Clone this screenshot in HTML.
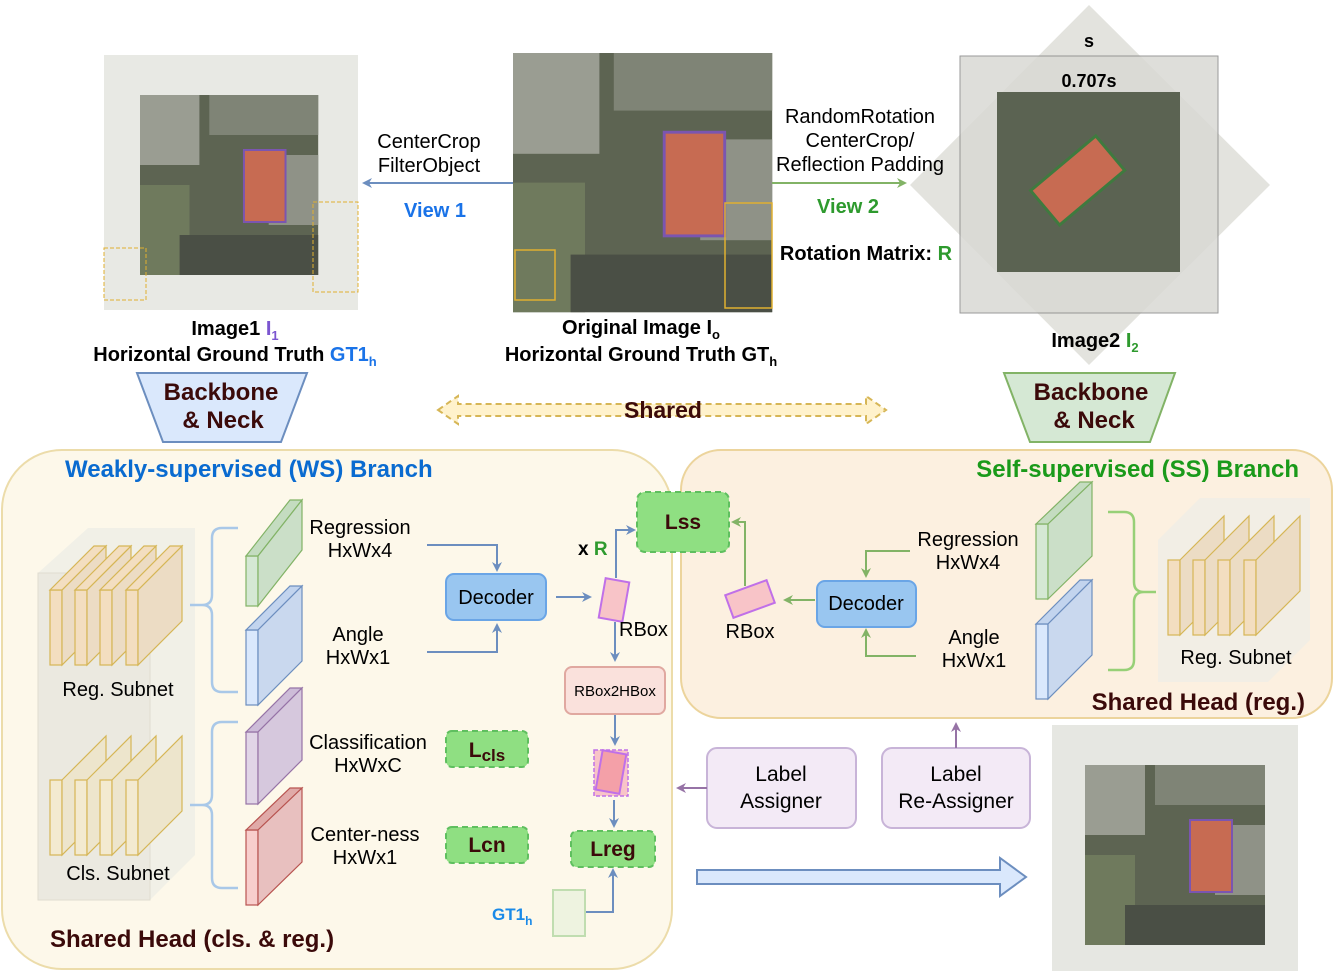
<!DOCTYPE html>
<html><head><meta charset="utf-8"><style>
body{margin:0;background:#fff}
svg{display:block;font-family:"Liberation Sans",Arial,sans-serif}
</style></head><body>
<svg width="1333" height="973" viewBox="0 0 1333 973" xmlns="http://www.w3.org/2000/svg">
<defs>
<marker id="ab" markerWidth="10" markerHeight="10" refX="8" refY="5" orient="auto" markerUnits="userSpaceOnUse"><path d="M0,0 L10,5 L0,10 L3,5z" fill="#6c8ebf"/></marker>
<marker id="ag" markerWidth="10" markerHeight="10" refX="8" refY="5" orient="auto" markerUnits="userSpaceOnUse"><path d="M0,0 L10,5 L0,10 L3,5z" fill="#82b366"/></marker>
<marker id="ap" markerWidth="10" markerHeight="10" refX="8" refY="5" orient="auto" markerUnits="userSpaceOnUse"><path d="M0,0 L10,5 L0,10 L3,5z" fill="#9673a6"/></marker>
<g id="photo">
<rect x="0" y="0" width="180" height="180" fill="#5d6452"/>
<rect x="0" y="0" width="60" height="70" fill="#9a9d92"/>
<rect x="70" y="0" width="110" height="40" fill="#7f8476"/>
<rect x="0" y="90" width="50" height="90" fill="#6f7a5d"/>
<rect x="40" y="140" width="140" height="40" fill="#4a4f45"/>
<rect x="130" y="60" width="50" height="70" fill="#8f9287"/>
<rect x="105" y="55" width="42" height="72" fill="#c76b52" stroke="#7b55b0" stroke-width="2"/>
</g>
</defs>

<!-- Image1 -->
<rect x="104" y="55" width="254" height="255" fill="#e8e9e4"/>
<use href="#photo" transform="translate(140,95) scale(0.99,1)"/>
<rect x="104" y="248" width="42" height="52" fill="none" stroke="#e0b030" stroke-dasharray="4,2"/>
<rect x="313" y="202" width="45" height="90" fill="none" stroke="#e0b030" stroke-dasharray="4,2"/>
<!-- Original -->
<g transform="translate(513,53) scale(1.44)"><use href="#photo"/></g>
<rect x="515" y="250" width="40" height="50" fill="none" stroke="#e0b030" stroke-width="1.5"/>
<rect x="725" y="203" width="47" height="105" fill="none" stroke="#e0b030" stroke-width="1.5"/>
<!-- Image2 -->
<polygon points="1089,5 1270,185 1089,365 910,185" fill="#dcdcd6" opacity="0.8"/>
<rect x="960" y="56" width="258" height="257" fill="#d9d9d4" stroke="#888" stroke-width="1" opacity="0.85"/>
<rect x="997" y="92" width="183" height="180" fill="#5b6352"/>
<rect x="1050" y="150" width="45" height="85" fill="#c76b52" stroke="#3f7a3f" stroke-width="3" transform="rotate(50 1088 192)"/>
<text x="1089" y="47" text-anchor="middle" font-size="18" font-weight="bold">s</text>
<text x="1089" y="87" text-anchor="middle" font-size="18" font-weight="bold">0.707s</text>

<!-- Top labels -->
<g font-size="20" text-anchor="middle">
<text x="429" y="148">CenterCrop</text>
<text x="429" y="172">FilterObject</text>
<text x="435" y="217" fill="#1a73e8" font-weight="bold">View 1</text>
<text x="860" y="123">RandomRotation</text>
<text x="860" y="147">CenterCrop/</text>
<text x="860" y="171">Reflection Padding</text>
<text x="848" y="213" fill="#2e9a2e" font-weight="bold">View 2</text>
<text x="866" y="260" font-weight="bold">Rotation Matrix: <tspan fill="#2e9a2e">R</tspan></text>
<text x="235" y="335" font-weight="bold">Image1 <tspan fill="#7b55d0">I</tspan><tspan fill="#7b55d0" font-size="13" dy="5">1</tspan></text>
<text x="235" y="361" font-weight="bold">Horizontal Ground Truth <tspan fill="#1a73e8">GT1</tspan><tspan fill="#1a73e8" font-size="13" dy="5">h</tspan></text>
<text x="641" y="334" font-weight="bold">Original Image I<tspan font-size="13" dy="5">o</tspan></text>
<text x="641" y="361" font-weight="bold">Horizontal Ground Truth GT<tspan font-size="13" dy="5">h</tspan></text>
<text x="1095" y="347" font-weight="bold">Image2 <tspan fill="#2e9a2e">I</tspan><tspan fill="#2e9a2e" font-size="13" dy="5">2</tspan></text>
</g>
<line x1="513" y1="183" x2="364" y2="183" stroke="#6c8ebf" stroke-width="2" marker-end="url(#ab)"/>
<line x1="772" y1="183" x2="905" y2="183" stroke="#82b366" stroke-width="2" marker-end="url(#ag)"/>

<!-- Backbones -->
<polygon points="137,373 307,373 281,442 163,442" fill="#dae8fc" stroke="#6c8ebf" stroke-width="2"/>
<text x="221" y="400" text-anchor="middle" font-size="24" font-weight="bold" fill="#3b0a0a">Backbone</text>
<text x="223" y="428" text-anchor="middle" font-size="24" font-weight="bold" fill="#3b0a0a">&amp; Neck</text>
<polygon points="1004,373 1175,373 1150,442 1030,442" fill="#d5e8d4" stroke="#82b366" stroke-width="2"/>
<text x="1091" y="400" text-anchor="middle" font-size="24" font-weight="bold" fill="#3b0a0a">Backbone</text>
<text x="1094" y="428" text-anchor="middle" font-size="24" font-weight="bold" fill="#3b0a0a">&amp; Neck</text>
<!-- Shared -->
<polygon points="438,410 458,396 458,404 866,404 866,396 886,410 866,424 866,416 458,416 458,424" fill="#fff2cc" stroke="#d6b656" stroke-width="2" stroke-dasharray="6,4"/>
<text x="663" y="418" text-anchor="middle" font-size="23" font-weight="bold" fill="#3b0a0a">Shared</text>

<!-- WS container -->
<rect x="2" y="450" width="670" height="519" rx="60" fill="#fdf8ea" stroke="#ecdcaa" stroke-width="2"/>
<text x="65" y="477" font-size="24" font-weight="bold" fill="#0a6bd0">Weakly-supervised (WS) Branch</text>
<text x="50" y="947" font-size="24" font-weight="bold" fill="#3b0a0a">Shared Head (cls. &amp; reg.)</text>
<!-- subnet box -->
<polygon points="38,573 88,528 195,528 195,855 150,900 38,900" fill="#efeee6" opacity="0.85"/>
<rect x="38" y="573" width="112" height="327" fill="#ebe9e0" stroke="#e0ddd0"/>
<g stroke="#d6b656" stroke-width="1.2">
<g fill="#f3dec0"><rect x="50" y="590" width="12" height="75"/><polygon points="62,590 106,546 106,621 62,665" fill="#ecdcc4"/><polygon points="50,590 62,590 106,546 94,546"/></g>
<g fill="#f3dec0"><rect x="75" y="590" width="12" height="75"/><polygon points="87,590 131,546 131,621 87,665" fill="#ecdcc4"/><polygon points="75,590 87,590 131,546 119,546"/></g>
<g fill="#f3dec0"><rect x="100" y="590" width="12" height="75"/><polygon points="112,590 156,546 156,621 112,665" fill="#ecdcc4"/><polygon points="100,590 112,590 156,546 144,546"/></g>
<g fill="#f3dec0"><rect x="126" y="590" width="12" height="75"/><polygon points="138,590 182,546 182,621 138,665" fill="#ecdcc4"/><polygon points="126,590 138,590 182,546 170,546"/></g>
<g fill="#f3ead0"><rect x="50" y="780" width="12" height="75"/><polygon points="62,780 106,736 106,811 62,855" fill="#ede5cc"/></g>
<g fill="#f3ead0"><rect x="75" y="780" width="12" height="75"/><polygon points="87,780 131,736 131,811 87,855" fill="#ede5cc"/></g>
<g fill="#f3ead0"><rect x="100" y="780" width="12" height="75"/><polygon points="112,780 156,736 156,811 112,855" fill="#ede5cc"/></g>
<g fill="#f3ead0"><rect x="126" y="780" width="12" height="75"/><polygon points="138,780 182,736 182,811 138,855" fill="#ede5cc"/></g>
</g>
<text x="118" y="696" text-anchor="middle" font-size="20">Reg. Subnet</text>
<text x="118" y="880" text-anchor="middle" font-size="20">Cls. Subnet</text>
<!-- braces -->
<g fill="none" stroke="#a9c8e8" stroke-width="2.5">
<path d="M238,528 H222 Q212,528 212,538 V595 Q212,605 202,605 H190 H202 Q212,605 212,615 V682 Q212,692 222,692 H238"/>
<path d="M238,722 H222 Q212,722 212,732 V795 Q212,805 202,805 H190 H202 Q212,805 212,815 V878 Q212,888 222,888 H238"/>
</g>
<!-- feature maps -->
<g stroke-width="1.2">
<g stroke="#82b366"><rect x="246" y="556" width="12" height="50" fill="#d5e8d4"/><polygon points="246,556 290,500 302,500 258,556" fill="#c4dcc0"/><polygon points="258,556 302,500 302,550 258,606" fill="#cbdfc8"/></g>
<g stroke="#6c8ebf"><rect x="246" y="630" width="12" height="75" fill="#dae8fc"/><polygon points="246,630 290,586 302,586 258,630" fill="#c2d4ee"/><polygon points="258,630 302,586 302,661 258,705" fill="#c9d8ee"/></g>
<g stroke="#9673a6"><rect x="246" y="732" width="12" height="72" fill="#e1d5e7"/><polygon points="246,732 290,688 302,688 258,732" fill="#cdbcd8"/><polygon points="258,732 302,688 302,760 258,804" fill="#d6c8dd"/></g>
<g stroke="#b85450"><rect x="246" y="830" width="12" height="75" fill="#f8cecc"/><polygon points="246,830 290,788 302,788 258,830" fill="#e0aaa8"/><polygon points="258,830 302,788 302,862 258,905" fill="#e8c0bf"/></g>
</g>
<g font-size="20" text-anchor="middle">
<text x="360" y="534">Regression</text><text x="360" y="557">HxWx4</text>
<text x="358" y="641">Angle</text><text x="358" y="664">HxWx1</text>
<text x="368" y="749">Classification</text><text x="368" y="772">HxWxC</text>
<text x="365" y="841">Center-ness</text><text x="365" y="864">HxWx1</text>
</g>
<g fill="none" stroke="#6c8ebf" stroke-width="2">
<path d="M427,545 H497 V570" marker-end="url(#ab)"/>
<path d="M427,652 H497 V625" marker-end="url(#ab)"/>
<path d="M556,597 H590" marker-end="url(#ab)"/>
<path d="M616,578 V530 H634" marker-end="url(#ab)"/>
<path d="M615,622 V660" marker-end="url(#ab)"/>
<path d="M615,715 V744" marker-end="url(#ab)"/>
<path d="M614,800 V826" marker-end="url(#ab)"/>
<path d="M586,912 H613 V870" marker-end="url(#ab)"/>
</g>
<rect x="446" y="574" width="100" height="46" rx="8" fill="#99c6f0" stroke="#6aa5e6" stroke-width="2"/>
<text x="496" y="604" text-anchor="middle" font-size="20">Decoder</text>
<rect x="602" y="580" width="24" height="40" fill="#f8c4c8" stroke="#c070e8" stroke-width="2" transform="rotate(10 614 600)"/>
<text x="578" y="555" font-size="19" font-weight="bold">x <tspan fill="#2e9a2e">R</tspan></text>
<text x="619" y="636" font-size="20">RBox</text>
<rect x="565" y="667" width="100" height="47" rx="7" fill="#fae1dc" stroke="#e0a8a0" stroke-width="2"/>
<text x="615" y="696" text-anchor="middle" font-size="15">RBox2HBox</text>
<rect x="594" y="750" width="34" height="46" fill="#f8c4c8" stroke="#c070e8" stroke-width="1.5" stroke-dasharray="4,2"/>
<rect x="599" y="752" width="24" height="40" fill="#f4a0a8" stroke="#c070e8" stroke-width="2" transform="rotate(10 611 772)"/>
<rect x="446" y="731" width="82" height="36" rx="6" fill="#8fdf82" stroke="#5fbf5f" stroke-width="2" stroke-dasharray="6,4"/>
<text x="487" y="757" text-anchor="middle" font-size="21" font-weight="bold" fill="#3b0a0a">L<tspan font-size="17" dy="4">cls</tspan></text>
<rect x="446" y="827" width="82" height="36" rx="6" fill="#8fdf82" stroke="#5fbf5f" stroke-width="2" stroke-dasharray="6,4"/>
<text x="487" y="852" text-anchor="middle" font-size="21" font-weight="bold" fill="#3b0a0a">Lcn</text>
<rect x="571" y="831" width="84" height="36" rx="6" fill="#8fdf82" stroke="#5fbf5f" stroke-width="2" stroke-dasharray="6,4"/>
<text x="613" y="856" text-anchor="middle" font-size="21" font-weight="bold" fill="#3b0a0a">Lreg</text>
<rect x="553" y="890" width="32" height="46" fill="#eef3e0" stroke="#c0ddb0" stroke-width="2"/>
<text x="492" y="920" font-size="17" font-weight="bold" fill="#1a8ae8">GT1<tspan font-size="12" dy="5">h</tspan></text>

<!-- SS container -->
<rect x="681" y="450" width="651" height="268" rx="40" fill="#fcf0e0" stroke="#ecd49c" stroke-width="2"/>
<text x="1299" y="477" text-anchor="end" font-size="24" font-weight="bold" fill="#1a9a1a">Self-supervised (SS) Branch</text>
<text x="1305" y="710" text-anchor="end" font-size="24" font-weight="bold" fill="#3b0a0a">Shared Head (reg.)</text>
<!-- Lss on top -->
<rect x="637" y="492" width="92" height="60" rx="8" fill="#8fdf82" stroke="#5fbf5f" stroke-width="2" stroke-dasharray="6,4"/>
<text x="683" y="529" text-anchor="middle" font-size="21" font-weight="bold" fill="#3b0a0a">Lss</text>
<g stroke-width="1.2">
<g stroke="#82b366"><rect x="1036" y="524" width="12" height="75" fill="#d5e8d4"/><polygon points="1036,524 1080,482 1092,482 1048,524" fill="#c4dcc0"/><polygon points="1048,524 1092,482 1092,556 1048,599" fill="#cbdfc8"/></g>
<g stroke="#6c8ebf"><rect x="1036" y="624" width="12" height="75" fill="#dae8fc"/><polygon points="1036,624 1080,580 1092,580 1048,624" fill="#c2d4ee"/><polygon points="1048,624 1092,580 1092,655 1048,699" fill="#c9d8ee"/></g>
</g>
<path d="M1108,512 H1124 Q1134,512 1134,522 V582 Q1134,592 1144,592 H1156 H1144 Q1134,592 1134,602 V660 Q1134,670 1124,670 H1108" fill="none" stroke="#97d077" stroke-width="2.5"/>
<polygon points="1158,540 1200,498 1310,498 1310,640 1268,682 1158,682" fill="#efeee6" opacity="0.8"/>
<g stroke="#d6b656" stroke-width="1.2" fill="#f3dec0">
<rect x="1168" y="560" width="12" height="75"/><polygon points="1180,560 1224,516 1224,591 1180,635" fill="#ecdcc4"/>
<rect x="1193" y="560" width="12" height="75"/><polygon points="1205,560 1249,516 1249,591 1205,635" fill="#ecdcc4"/>
<rect x="1218" y="560" width="12" height="75"/><polygon points="1230,560 1274,516 1274,591 1230,635" fill="#ecdcc4"/>
<rect x="1244" y="560" width="12" height="75"/><polygon points="1256,560 1300,516 1300,591 1256,635" fill="#ecdcc4"/>
</g>
<text x="1236" y="664" text-anchor="middle" font-size="20">Reg. Subnet</text>
<g font-size="20" text-anchor="middle">
<text x="968" y="546">Regression</text><text x="968" y="569">HxWx4</text>
<text x="974" y="644">Angle</text><text x="974" y="667">HxWx1</text>
</g>
<g fill="none" stroke="#82b366" stroke-width="2">
<path d="M910,551 H866 V576" marker-end="url(#ag)"/>
<path d="M916,656 H866 V630" marker-end="url(#ag)"/>
<path d="M815,600 H785" marker-end="url(#ag)"/>
<path d="M745,586 V522 H733" marker-end="url(#ag)"/>
</g>
<rect x="817" y="581" width="99" height="46" rx="8" fill="#99c6f0" stroke="#6aa5e6" stroke-width="2"/>
<text x="866" y="610" text-anchor="middle" font-size="20">Decoder</text>
<rect x="728" y="587" width="44" height="24" fill="#f8c4c8" stroke="#c070e8" stroke-width="2" transform="rotate(-20 750 599)"/>
<text x="750" y="638" text-anchor="middle" font-size="20">RBox</text>

<!-- Assigners -->
<rect x="707" y="748" width="149" height="80" rx="10" fill="#f3eaf6" stroke="#c8b4d8" stroke-width="2"/>
<text x="781" y="781" text-anchor="middle" font-size="21">Label</text>
<text x="781" y="808" text-anchor="middle" font-size="21">Assigner</text>
<rect x="882" y="748" width="148" height="80" rx="10" fill="#f3eaf6" stroke="#c8b4d8" stroke-width="2"/>
<text x="956" y="781" text-anchor="middle" font-size="21">Label</text>
<text x="956" y="808" text-anchor="middle" font-size="21">Re-Assigner</text>
<line x1="707" y1="788" x2="678" y2="788" stroke="#9673a6" stroke-width="2" marker-end="url(#ap)"/>
<line x1="956" y1="748" x2="956" y2="724" stroke="#9673a6" stroke-width="2" marker-end="url(#ap)"/>
<polygon points="697,870 1000,870 1000,858 1026,877 1000,896 1000,884 697,884" fill="#dae8fc" stroke="#6c8ebf" stroke-width="2"/>
<!-- bottom right image -->
<rect x="1052" y="725" width="246" height="246" fill="#e6e7e2"/>
<g transform="translate(1085,765)"><use href="#photo"/></g>
</svg>
</body></html>
